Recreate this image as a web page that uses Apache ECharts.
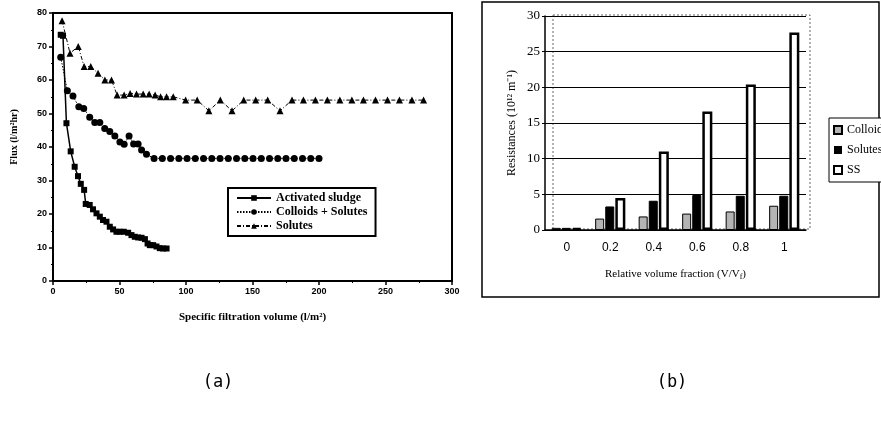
<!DOCTYPE html>
<html>
<head>
<meta charset="utf-8">
<script src="https://cdn.jsdelivr.net/npm/echarts@6/dist/echarts.min.js"></script>
<style>
html,body{margin:0;padding:0;background:#fff;}
#chart{width:881px;height:422px;}
</style>
</head>
<body>
<div id="chart"></div>
<script>
// ---------- Panel (a): flux vs specific filtration volume ----------
const actX = [5.8, 7.5, 10.1, 13.3, 16.3, 18.8, 20.9, 23.4, 24.6, 27.6, 30.1, 32.7, 35.2, 37.6, 40.2, 42.7, 45.2, 47.7, 50.2, 53.2, 56.5, 59.0, 61.5, 64.0, 66.6, 69.1, 71.1, 72.8, 75.3, 77.8, 80.3, 82.8, 85.4];
const actY = [73.5, 73.2, 47.1, 38.7, 34.1, 31.3, 29.0, 27.2, 23.0, 22.7, 21.4, 20.2, 19.2, 18.2, 17.7, 16.2, 15.4, 14.7, 14.7, 14.7, 14.4, 13.7, 13.2, 13.0, 12.9, 12.5, 11.2, 10.7, 10.7, 10.3, 9.8, 9.7, 9.7];

const colX = [5.8, 10.8, 15.0, 19.4, 23.1, 27.6, 31.4, 35.2, 38.9, 42.7, 46.5, 50.3, 53.5, 57.2, 60.6, 64.0, 66.6, 70.3, 76.0, 82.2, 88.4, 94.6, 100.8, 107.0, 113.2, 119.4, 125.6, 131.8, 138.0, 144.2, 150.4, 156.6, 162.8, 169.0, 175.2, 181.4, 187.6, 193.8, 200.0];
const colY = [66.8, 56.8, 55.2, 52.0, 51.5, 48.9, 47.3, 47.3, 45.5, 44.6, 43.3, 41.5, 40.8, 43.3, 40.9, 40.9, 39.1, 37.8, 36.6, 36.6, 36.6, 36.6, 36.6, 36.6, 36.6, 36.6, 36.6, 36.6, 36.6, 36.6, 36.6, 36.6, 36.6, 36.6, 36.6, 36.6, 36.6, 36.6, 36.6];

const solX = [6.8, 12.8, 19.0, 23.4, 28.4, 33.9, 39.0, 44.0, 48.2, 53.5, 58.0, 62.8, 67.8, 72.3, 76.8, 80.9, 85.4, 90.4, 99.7, 108.4, 117.2, 125.8, 134.6, 143.4, 152.4, 161.4, 170.7, 179.7, 188.3, 197.3, 206.3, 215.7, 224.7, 233.4, 242.5, 251.5, 260.5, 269.9, 278.6];
const solY = [77.7, 68.0, 70.0, 64.0, 64.0, 62.0, 60.0, 60.0, 55.5, 55.5, 56.0, 55.8, 55.8, 55.8, 55.5, 55.0, 55.0, 55.0, 54.0, 54.0, 50.8, 54.0, 50.8, 54.0, 54.0, 54.0, 50.8, 54.0, 54.0, 54.0, 54.0, 54.0, 54.0, 54.0, 54.0, 54.0, 54.0, 54.0, 54.0];

const seriesNamesA = ['Activated sludge', 'Colloids + Solutes', 'Solutes'];

// ---------- Panel (b): resistances vs relative volume fraction ----------
const fracLabels = ['0', '0.2', '0.4', '0.6', '0.8', '1'];
const colloidsR = [0.3, 1.6, 1.9, 2.3, 2.6, 3.4];
const solutesR  = [0.3, 3.3, 4.1, 4.9, 4.8, 4.8];
const ssR       = [0.3, 4.5, 11.0, 16.6, 20.4, 27.7];
const seriesNamesB = ['Colloids', 'Solutes', 'SS'];

const zip = (xs, ys) => xs.map((x, i) => [x, ys[i]]);

const serifBold = {fontFamily: 'Liberation Serif', fontWeight: 'bold', color: '#000'};
const sansBold = {fontFamily: 'Liberation Sans', fontWeight: 'bold', color: '#000', fontSize: 9};

const chart = echarts.init(document.getElementById('chart'), null, {renderer: 'canvas'});

chart.setOption({
  backgroundColor: '#fff',
  animation: false,
  title: [
    {text: '(a)', left: 213, top: 369, textAlign: 'center',
     textStyle: {fontFamily: 'DejaVu Sans Mono', fontSize: 17, fontWeight: 'normal', color: '#000'}},
    {text: '(b)', left: 667, top: 369, textAlign: 'center',
     textStyle: {fontFamily: 'DejaVu Sans Mono', fontSize: 17, fontWeight: 'normal', color: '#000'}}
  ],
  graphic: [
    {type: 'rect', shape: {x: 482, y: 2, width: 397, height: 295},
     style: {fill: 'none', stroke: '#000', lineWidth: 1.5}, silent: true},
    {type: 'rect', shape: {x: 553, y: 15, width: 257, height: 214},
     style: {fill: 'none', stroke: '#666', lineWidth: 1, lineDash: [2, 2]}, silent: true, z: -1}
  ],
  legend: [
    {
      data: seriesNamesA,
      left: 228, top: 188,
      orient: 'vertical',
      itemWidth: 34, itemHeight: 7, itemGap: 2,
      padding: [4, 8, 4, 8],
      borderColor: '#000', borderWidth: 2,
      backgroundColor: '#fff',
      textStyle: Object.assign({fontSize: 12}, serifBold)
    },
    {
      data: seriesNamesB,
      left: 829, top: 118,
      orient: 'vertical',
      icon: 'rect',
      itemWidth: 8, itemHeight: 8, itemGap: 8,
      padding: [6, 10, 6, 4],
      borderColor: '#000', borderWidth: 1,
      backgroundColor: '#fff',
      textStyle: {fontFamily: 'Liberation Serif', fontSize: 12, color: '#000'}
    }
  ],
  grid: [
    {left: 53, top: 13, width: 399, height: 268, show: true, borderColor: '#000', borderWidth: 2, containLabel: false},
    {left: 545, top: 16, width: 261, height: 214, containLabel: false}
  ],
  xAxis: [
    {
      gridIndex: 0, type: 'value', min: 0, max: 300, interval: 50,
      name: 'Specific filtration volume (l/m²)', nameLocation: 'middle', nameGap: 31,
      nameTextStyle: Object.assign({fontSize: 11}, serifBold),
      axisLine: {show: true, lineStyle: {color: '#000', width: 2}},
      axisTick: {show: true, inside: false, length: 4, lineStyle: {color: '#000', width: 1.5}},
      minorTick: {show: true, splitNumber: 2, length: 2, lineStyle: {color: '#000'}},
      axisLabel: Object.assign({margin: 6}, sansBold),
      splitLine: {show: false}
    },
    {
      gridIndex: 1, type: 'category', data: fracLabels,
      name: 'Relative volume fraction (V/V{sub|f})', nameLocation: 'middle', nameGap: 37,
      nameTextStyle: {fontFamily: 'Liberation Serif', fontSize: 11, color: '#000',
        rich: {sub: {fontFamily: 'Liberation Serif', fontSize: 8, verticalAlign: 'bottom', padding: [6, 0, 0, 0]}}},
      axisLine: {show: true, lineStyle: {color: '#000', width: 1.5}},
      axisTick: {show: false},
      axisLabel: {fontFamily: 'Liberation Sans', fontSize: 12, color: '#000', margin: 12},
      splitLine: {show: false}
    }
  ],
  yAxis: [
    {
      gridIndex: 0, type: 'value', min: 0, max: 80, interval: 10,
      name: 'Flux (l/m²hr)', nameLocation: 'middle', nameGap: 34,
      nameTextStyle: Object.assign({fontSize: 10, padding: [0, 0, 0, 20]}, serifBold),
      axisLine: {show: true, lineStyle: {color: '#000', width: 2}},
      axisTick: {show: true, inside: false, length: 4, lineStyle: {color: '#000', width: 1.5}},
      minorTick: {show: true, splitNumber: 2, length: 2, lineStyle: {color: '#000'}},
      axisLabel: Object.assign({margin: 6}, sansBold),
      splitLine: {show: false}
    },
    {
      gridIndex: 1, type: 'value', min: 0, max: 30, interval: 5,
      name: 'Resistances (10¹² m⁻¹)', nameLocation: 'middle', nameGap: 27,
      nameTextStyle: {fontFamily: 'Liberation Serif', fontSize: 12, color: '#000'},
      axisLine: {show: true, lineStyle: {color: '#000', width: 1.5}},
      axisTick: {show: true, length: 3, lineStyle: {color: '#000'}},
      axisLabel: {fontFamily: 'Liberation Serif', fontSize: 13, color: '#000', margin: 5},
      splitLine: {show: true, lineStyle: {color: '#000', width: 1}}
    }
  ],
  series: [
    {
      name: seriesNamesA[0], type: 'line', xAxisIndex: 0, yAxisIndex: 0,
      data: zip(actX, actY),
      symbol: 'rect', symbolSize: 6,
      itemStyle: {color: '#000'},
      lineStyle: {color: '#000', width: 1.5, type: 'solid'}
    },
    {
      name: seriesNamesA[1], type: 'line', xAxisIndex: 0, yAxisIndex: 0,
      data: zip(colX, colY),
      symbol: 'circle', symbolSize: 7,
      itemStyle: {color: '#000'},
      lineStyle: {color: '#000', width: 1, type: [1.5, 1.5]}
    },
    {
      name: seriesNamesA[2], type: 'line', xAxisIndex: 0, yAxisIndex: 0,
      data: zip(solX, solY),
      symbol: 'triangle', symbolSize: 7,
      itemStyle: {color: '#000'},
      lineStyle: {color: '#000', width: 1, type: [4, 2, 1, 2]}
    },
    {
      name: seriesNamesB[0], type: 'bar', xAxisIndex: 1, yAxisIndex: 1,
      data: colloidsR, barWidth: 9, barGap: '12%',
      itemStyle: {color: '#b4b4b4', borderColor: '#000', borderWidth: 1}
    },
    {
      name: seriesNamesB[1], type: 'bar', xAxisIndex: 1, yAxisIndex: 1,
      data: solutesR, barWidth: 9, barGap: '12%',
      itemStyle: {color: '#000', borderColor: '#000', borderWidth: 1}
    },
    {
      name: seriesNamesB[2], type: 'bar', xAxisIndex: 1, yAxisIndex: 1,
      data: ssR, barWidth: 10, barGap: '12%',
      itemStyle: {color: '#fff', borderColor: '#000', borderWidth: 2.5}
    }
  ]
});
</script>
</body>
</html>
